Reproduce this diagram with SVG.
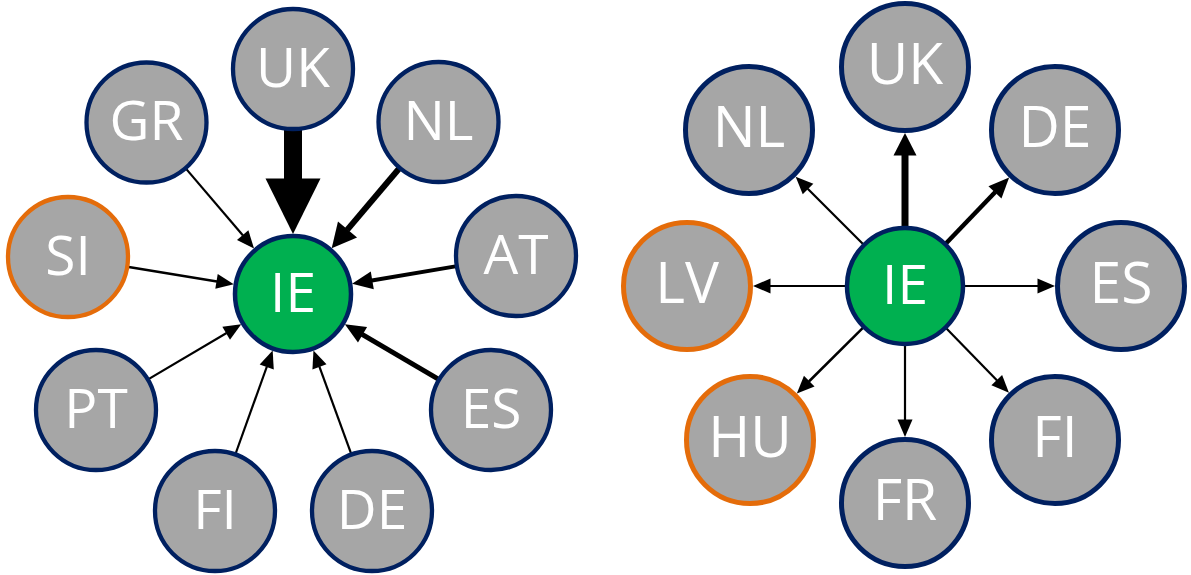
<svg xmlns="http://www.w3.org/2000/svg" width="1191" height="575" viewBox="0 0 1191 575">
<style>
.n circle{fill:#A6A6A6;stroke:#002060;stroke-width:4.3}
.n.r circle{stroke-width:5}
.n.o circle{stroke:#E46C0A}
.n.c circle{fill:#00B050;stroke-width:4.5}
.n text{fill:#fff;font-family:"Open Sans","Noto Sans",sans-serif;font-size:55px;text-anchor:middle}
.n.r text{font-size:57px}
.e line{stroke:#000;fill:none}
</style>
<defs>
<marker id="aS" markerUnits="userSpaceOnUse" orient="auto" refX="0" refY="0" markerWidth="40" markerHeight="40" overflow="visible"><path d="M-0.5,-7.5 L17,0 L-0.5,7.5 z" fill="#000"/></marker>
<marker id="aM" markerUnits="userSpaceOnUse" orient="auto" refX="0" refY="0" markerWidth="40" markerHeight="40" overflow="visible"><path d="M-0.5,-9 L20,0 L-0.5,9 z" fill="#000"/></marker>
<marker id="aL" markerUnits="userSpaceOnUse" orient="auto" refX="0" refY="0" markerWidth="40" markerHeight="40" overflow="visible"><path d="M-0.5,-12.5 L24,0 L-0.5,12.5 z" fill="#000"/></marker>
<marker id="aU" markerUnits="userSpaceOnUse" orient="auto" refX="0" refY="0" markerWidth="40" markerHeight="40" overflow="visible"><path d="M-0.5,-11.5 L22,0 L-0.5,11.5 z" fill="#000"/></marker>
<marker id="aX" markerUnits="userSpaceOnUse" orient="auto" refX="0" refY="0" markerWidth="80" markerHeight="80" overflow="visible"><path d="M-0.5,-27.5 L55,0 L-0.5,27.5 z" fill="#000"/></marker>
</defs>
<g id="connectors" class="e">
<line x1="185.5" y1="168.1" x2="243.0" y2="235.5" stroke-width="2.2" marker-end="url(#aS)"/>
<line x1="293" y1="129" x2="293" y2="179" stroke-width="18" marker-end="url(#aX)"/>
<line x1="399.8" y1="167.8" x2="347.2" y2="229.9" stroke-width="6" marker-end="url(#aL)"/>
<line x1="127.2" y1="266.7" x2="217.0" y2="281.5" stroke-width="2.5" marker-end="url(#aS)"/>
<line x1="456.9" y1="266.1" x2="371.8" y2="280.5" stroke-width="4" marker-end="url(#aM)"/>
<line x1="147.7" y1="379.6" x2="226.6" y2="333.0" stroke-width="2.2" marker-end="url(#aS)"/>
<line x1="439.2" y1="379.7" x2="362.1" y2="334.4" stroke-width="5" marker-end="url(#aM)"/>
<line x1="235.3" y1="454.5" x2="266.9" y2="366.5" stroke-width="2.2" marker-end="url(#aS)"/>
<line x1="351.5" y1="454.6" x2="319.3" y2="366.4" stroke-width="2.2" marker-end="url(#aS)"/>
<line x1="905" y1="228" x2="905" y2="155" stroke-width="7" marker-end="url(#aU)"/>
<line x1="864.0" y1="245.0" x2="807.7" y2="188.7" stroke-width="2.2" marker-end="url(#aS)"/>
<line x1="945.2" y1="244.2" x2="995.3" y2="192.0" stroke-width="4.5" marker-end="url(#aM)"/>
<line x1="847" y1="286" x2="770" y2="286" stroke-width="2.2" marker-end="url(#aS)"/>
<line x1="963" y1="286" x2="1038" y2="286" stroke-width="2.2" marker-end="url(#aS)"/>
<line x1="863.9" y1="326.9" x2="808.9" y2="381.5" stroke-width="2.5" marker-end="url(#aS)"/>
<line x1="905" y1="344" x2="905" y2="420" stroke-width="2.2" marker-end="url(#aS)"/>
<line x1="945.5" y1="327.5" x2="997.1" y2="380.5" stroke-width="2.2" marker-end="url(#aS)"/>
</g>
<g id="L-GR" class="n"><circle cx="146.5" cy="122.5" r="60"/><text x="146.5" y="140">GR</text></g>
<g id="L-UK" class="n"><circle cx="293" cy="69" r="60"/><text x="293" y="86.5">UK</text></g>
<g id="L-NL" class="n"><circle cx="438.5" cy="122" r="60"/><text x="438.5" y="139.5">NL</text></g>
<g id="L-SI" class="n o"><circle cx="68" cy="257" r="60"/><text x="68" y="274.5">SI</text></g>
<g id="L-AT" class="n"><circle cx="516" cy="256" r="60"/><text x="516" y="273.5">AT</text></g>
<g id="L-IE" class="n c"><circle cx="293" cy="294" r="58"/><text x="293" y="311.5">IE</text></g>
<g id="L-PT" class="n"><circle cx="96" cy="410" r="60"/><text x="96" y="427.5">PT</text></g>
<g id="L-ES" class="n"><circle cx="491" cy="410" r="60"/><text x="491" y="427.5">ES</text></g>
<g id="L-FI" class="n"><circle cx="215" cy="511" r="60"/><text x="215" y="528.5">FI</text></g>
<g id="L-DE" class="n"><circle cx="372" cy="511" r="60"/><text x="372" y="528.5">DE</text></g>
<g id="R-UK" class="n r"><circle cx="905" cy="67" r="63.5"/><text x="905" y="84">UK</text></g>
<g id="R-NL" class="n r"><circle cx="749" cy="130" r="63.5"/><text x="749" y="147">NL</text></g>
<g id="R-DE" class="n r"><circle cx="1055" cy="130" r="63.5"/><text x="1055" y="147">DE</text></g>
<g id="R-LV" class="n r o"><circle cx="687" cy="286" r="63.5"/><text x="687" y="303">LV</text></g>
<g id="R-IE" class="n c"><circle cx="905" cy="286" r="58"/><text x="905" y="303.5">IE</text></g>
<g id="R-ES" class="n r"><circle cx="1121" cy="286" r="63.5"/><text x="1121" y="303">ES</text></g>
<g id="R-HU" class="n r o"><circle cx="750" cy="440" r="63.5"/><text x="750" y="457">HU</text></g>
<g id="R-FR" class="n r"><circle cx="905" cy="503" r="63.5"/><text x="905" y="520">FR</text></g>
<g id="R-FI" class="n r"><circle cx="1055" cy="440" r="63.5"/><text x="1055" y="457">FI</text></g>
</svg>
